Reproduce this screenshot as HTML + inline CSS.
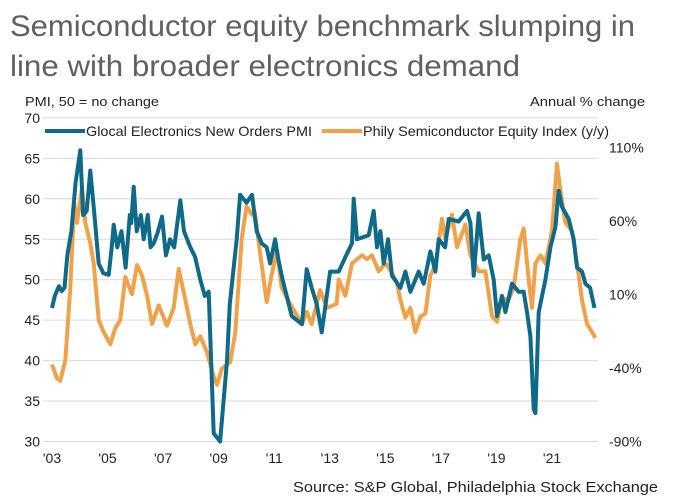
<!DOCTYPE html>
<html><head><meta charset="utf-8">
<style>
html,body{margin:0;padding:0;background:#fff;}
svg{display:block;font-family:"Liberation Sans",sans-serif;}
</style></head>
<body>
<svg id="chart" width="681" height="504" viewBox="0 0 681 504">
<text x="10" y="36" font-size="30" fill="#606060" textLength="625" lengthAdjust="spacingAndGlyphs">Semiconductor equity benchmark slumping in</text>
<text x="10" y="76" font-size="30" fill="#606060" textLength="510" lengthAdjust="spacingAndGlyphs">line with broader electronics demand</text>
<text x="25" y="106" font-size="13" fill="#222" textLength="134" lengthAdjust="spacingAndGlyphs">PMI, 50 = no change</text>
<text x="645" y="106" font-size="13" fill="#222" text-anchor="end" textLength="115" lengthAdjust="spacingAndGlyphs">Annual % change</text>
<g id="grid"></g>
<g id="ticks"></g>
<g id="series"></g>
<g>
<line x1="45" y1="131" x2="85" y2="131" stroke="#0f6a8a" stroke-width="4"/>
<text x="86" y="136" font-size="14" fill="#222" textLength="226" lengthAdjust="spacingAndGlyphs">Glocal Electronics New Orders PMI</text>
<line x1="322" y1="131" x2="362" y2="131" stroke="#f0a24a" stroke-width="4"/>
<text x="363" y="136" font-size="14" fill="#222" textLength="246" lengthAdjust="spacingAndGlyphs">Phily Semiconductor Equity Index (y/y)</text>
</g>
<text x="658" y="492" font-size="15" fill="#222" text-anchor="end" textLength="365" lengthAdjust="spacingAndGlyphs">Source: S&amp;P Global, Philadelphia Stock Exchange</text>
</svg>
<script>
const leftTicks=[30,35,40,45,50,55,60,65,70];
const rightTicks=[-90,-40,10,60,110];
const xTickYears=[2003,2005,2007,2009,2011,2013,2015,2017,2019,2021];
const xTickLabels=["'03","'05","'07","'09","'11","'13","'15","'17","'19","'21"];
const pmiYears=[2003.0,2003.1,2003.25,2003.35,2003.45,2003.55,2003.7,2003.85,2004.02,2004.12,2004.25,2004.38,2004.5,2004.68,2004.85,2005.04,2005.15,2005.22,2005.35,2005.5,2005.65,2005.8,2005.85,2005.94,2006.05,2006.2,2006.3,2006.45,2006.55,2006.66,2006.8,2006.96,2007.1,2007.25,2007.4,2007.62,2007.75,2007.98,2008.15,2008.34,2008.5,2008.64,2008.82,2009.05,2009.3,2009.4,2009.65,2009.77,2010.0,2010.2,2010.37,2010.55,2010.73,2010.85,2011.03,2011.15,2011.3,2011.45,2011.63,2012.0,2012.17,2012.35,2012.53,2012.71,2013.01,2013.32,2013.56,2013.8,2013.86,2013.98,2014.4,2014.58,2014.7,2014.82,2014.94,2015.1,2015.24,2015.54,2015.72,2015.9,2016.2,2016.38,2016.62,2016.8,2016.92,2017.15,2017.28,2017.64,2017.94,2018.06,2018.18,2018.36,2018.54,2018.72,2018.9,2019.02,2019.2,2019.32,2019.56,2019.8,2019.98,2020.1,2020.22,2020.34,2020.4,2020.52,2020.76,2020.94,2021.12,2021.24,2021.36,2021.6,2021.78,2021.9,2022.08,2022.2,2022.37,2022.53];
const pmiValues=[46.5,48,49.2,48.6,49,53,56,62,66,58,58.5,63.5,59,52,50.8,50.6,54,56.8,54,56,51.5,58,57,61.5,56,58,55,58,54,54.5,55.8,57.8,53,55,54,59.8,56,54,52.8,50,48,48.5,31,30,40,47,55,60.5,59.5,60.5,56,54.5,54,52,55,52.5,50,48,45.5,44.5,51.3,49,47,43.5,51,51,52.8,54.5,60,55,55.5,58.5,54,56,52,55,50.5,49,51,48.5,51,49.5,53.5,51,55,54,57.5,57.2,58.5,57,50.5,58.2,52.5,53,50,45.5,48,46,49.5,48.5,48.5,46,43,34,33.5,46,50,54,56.5,61,59,57.5,55,51.5,51,49.5,49,46.5];
const soxYears=[2003.0,2003.18,2003.3,2003.48,2003.66,2003.8,2003.9,2004.08,2004.2,2004.38,2004.5,2004.68,2004.86,2005.1,2005.28,2005.46,2005.64,2005.88,2006.06,2006.24,2006.42,2006.6,2006.84,2007.14,2007.38,2007.56,2007.8,2007.98,2008.16,2008.34,2008.58,2008.82,2008.94,2009.12,2009.42,2009.6,2009.83,2010.0,2010.2,2010.3,2010.5,2010.73,2010.9,2011.1,2011.27,2011.57,2012.0,2012.17,2012.35,2012.65,2012.9,2013.25,2013.32,2013.56,2013.8,2014.16,2014.34,2014.52,2014.76,2015.0,2015.24,2015.42,2015.54,2015.72,2015.9,2016.08,2016.26,2016.44,2016.62,2016.8,2017.04,2017.16,2017.4,2017.58,2017.88,2018.06,2018.36,2018.6,2018.84,2019.02,2019.2,2019.44,2019.62,2019.86,2019.98,2020.16,2020.28,2020.4,2020.58,2020.76,2021.0,2021.18,2021.3,2021.48,2021.72,2021.9,2022.08,2022.26,2022.44,2022.56];
const soxValues=[-37.7,-47,-48.7,-34.9,14.7,72.5,58.8,82.5,58.8,45,31.2,-7.4,-15.6,-23.9,-12.9,-7.4,21.9,10.3,30.1,23,9.2,-10.1,2.6,-11.2,0.9,27.4,6.4,-10.1,-23.9,-18.4,-29.4,-45.9,-51.4,-40.4,-36,-15.6,47.8,69.8,64.3,65.9,36.7,4.8,23,39.5,14.7,3.7,-10.1,-1.8,-10.1,13,0.9,3.7,20.2,9.2,31.2,36.7,34,36.7,25.7,31.2,24.6,17.4,6.4,-5.7,0.9,-15.6,-5.1,-2.9,23,30.1,61.5,47.8,64.3,42.2,57.7,36.7,25.7,25.7,-4.6,-8.5,7.5,6.4,14.7,47.8,54.9,20.2,0.9,31.2,36.7,31.2,53.3,99,80.8,58.8,53.3,31.2,6.4,-10.1,-15.6,-19.5];

const NS='http://www.w3.org/2000/svg';
const X0=52,PXY=27.78,Y30=441.5,PPMI=8.09,PPCT=1.47;
function xScale(yr){return X0+(yr-2003)*PXY;}
function yLeft(v){return Y30-(v-30)*PPMI;}
function yRight(v){return Y30-(v+90)*PPCT;}
function mk(tag,attrs,parent){const e=document.createElementNS(NS,tag);for(const k in attrs)e.setAttribute(k,attrs[k]);parent.appendChild(e);return e;}
const grid=document.getElementById('grid'),ticks=document.getElementById('ticks'),series=document.getElementById('series');
leftTicks.forEach(v=>{
  const l=mk('line',{x1:43,x2:598,y1:yLeft(v),y2:yLeft(v),stroke:'#d9d9d9','stroke-width':1},grid);
  
  
  const t=mk('text',{x:40,y:yLeft(v)+5,'font-size':14,fill:'#222','text-anchor':'end'},ticks);
  t.textContent=v;
  
  
});
rightTicks.forEach(v=>{
  const t=mk('text',{x:609,y:yRight(v)+5,'font-size':14,fill:'#222'},ticks);
  t.textContent=v+'%';
  
  
});
xTickYears.forEach((yr,i)=>{
  const t=mk('text',{x:xScale(yr),y:463,'font-size':14,fill:'#222','text-anchor':'middle'},ticks);
  t.textContent=xTickLabels[i];
  
  
});
function path(xs,ys,fy,color,name){
  const d=xs.map((yr,i)=>(i?'L':'M')+xScale(yr).toFixed(1)+','+fy(ys[i]).toFixed(1)).join('');
  const p=mk('path',{d:d,fill:'none',stroke:color,'stroke-width':4,'stroke-linejoin':'round'},series);
  
  
}
path(soxYears,soxValues,yRight,'#f0a24a','sox-line');
path(pmiYears,pmiValues,yLeft,'#0f6a8a','pmi-line');
</script>
</body></html>
